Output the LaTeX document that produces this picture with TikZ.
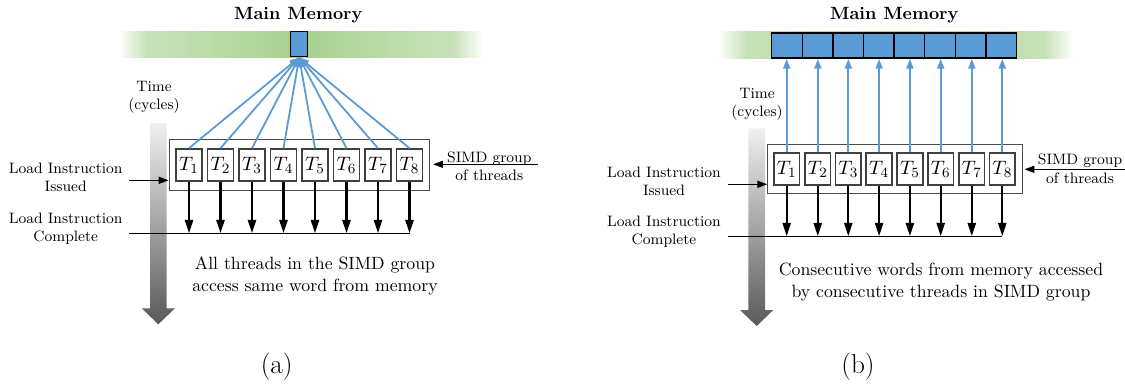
\documentclass[tikz,border=0pt]{standalone}
\usetikzlibrary{arrows.meta}
\definecolor{memblue}{RGB}{91,155,213}
\definecolor{bandlight}{RGB}{200,226,184}
\definecolor{banddark}{RGB}{168,208,142}
\pgfdeclarehorizontalshading{membandshade}{100bp}{color(0bp)=(white); color(25bp)=(white); color(29bp)=(bandlight); color(50bp)=(banddark); color(71bp)=(bandlight); color(75bp)=(white); color(100bp)=(white)}

\begin{document}
\begin{tikzpicture}[x=0.5634pt,y=-0.5634pt,
  thrd/.style={draw=black!75,line width=0.9pt,fill=white,inner sep=0pt,minimum width=14.5pt,minimum height=18pt,font=\fontsize{11}{13}\selectfont},
  grp/.style={draw=black!70,line width=0.6pt,inner sep=0pt},
  cell/.style={draw=black,line width=0.8pt,fill=memblue,inner sep=0pt,minimum height=14.3pt},
  lbl/.style={align=center,font=\fontsize{8.5}{10.4}\selectfont,inner sep=0pt},
  note/.style={align=center,font=\fontsize{10}{12.2}\selectfont,inner sep=0pt},
  ttl/.style={font=\bfseries,inner sep=0pt},
  req/.style={draw=memblue,line width=1pt,-{Triangle[length=5.5pt,width=4pt]}},
  done/.style={line width=1.3pt,-{Triangle[length=7.5pt,width=4.5pt]}},
  ptr/.style={line width=0.6pt,-{Triangle[length=5.5pt,width=4pt]}}]
\useasboundingbox (0,0) rectangle (1125,385);
% (a) same word
\shade[shading=membandshade] (118,31) rectangle (483,57.7);
\shade[top color=black!6,bottom color=black!65] (150,123) -- (166.7,123) -- (166.7,308.3) -- (175,308.3) -- (158.3,324.3) -- (141.7,308.3) -- (150,308.3) -- cycle;
\node[ttl] (mmema) at (298.3,15) {Main Memory};
\node[cell,minimum width=9.6pt,minimum height=14.1pt] (ma) at (299.2,44.2) {};
\node[lbl] (timea) at (154,97.5) {Time\\(cycles)};
\node[grp,minimum width=147pt,minimum height=28.6pt] (ga) at (299.5,164.7) {};
\node[thrd] (ta1) at (189,165) {$T_1$};
\node[thrd] (ta2) at (220.5,165) {$T_2$};
\node[thrd] (ta3) at (252,165) {$T_3$};
\node[thrd] (ta4) at (283.5,165) {$T_4$};
\node[thrd] (ta5) at (315,165) {$T_5$};
\node[thrd] (ta6) at (346.5,165) {$T_6$};
\node[thrd] (ta7) at (378,165) {$T_7$};
\node[thrd] (ta8) at (409.5,165) {$T_8$};
\node[lbl] (issla) at (65.7,177.5) {Load Instruction\\Issued};
\node[lbl] (cmpla) at (65.7,228.8) {Load Instruction\\Complete};
\node[lbl] (simdla) at (489.3,166.3) {SIMD group\\of threads};
\node[note] (notea) at (315,275.8) {All threads in the SIMD group\\access same word from memory};
\node[font=\fontsize{15.4}{18}\selectfont,inner sep=0pt] (capa) at (276.7,366.7) {(a)};
\coordinate (issa) at (129,180.3);
\coordinate (cmpa) at (129,233.3);
\coordinate (simda) at (538,164.3);
\draw[req] (ta1.north) to (ma.south);
\draw[req] (ta2.north) to (ma.south);
\draw[req] (ta3.north) to (ma.south);
\draw[req] (ta4.north) to (ma.south);
\draw[req] (ta5.north) to (ma.south);
\draw[req] (ta6.north) to (ma.south);
\draw[req] (ta7.north) to (ma.south);
\draw[req] (ta8.north) to (ma.south);
\draw[ptr] (issa) to (issa -| ga.west);
\draw[ptr,shorten >=1.5pt] (simda) to (simda -| ga.east);
\draw[line width=0.6pt] (cmpa) to (cmpa -| ta8);
\draw[done] (ta1.south) to (ta1 |- cmpa);
\draw[done] (ta2.south) to (ta2 |- cmpa);
\draw[done] (ta3.south) to (ta3 |- cmpa);
\draw[done] (ta4.south) to (ta4 |- cmpa);
\draw[done] (ta5.south) to (ta5 |- cmpa);
\draw[done] (ta6.south) to (ta6 |- cmpa);
\draw[done] (ta7.south) to (ta7 |- cmpa);
\draw[done] (ta8.south) to (ta8 |- cmpa);
% (b) consecutive words
\shade[shading=membandshade] (718,31.7) rectangle (1073,58.3);
\shade[top color=black!6,bottom color=black!65] (748.3,128.3) -- (765,128.3) -- (765,310) -- (773.3,310) -- (756.7,326) -- (740,310) -- (748.3,310) -- cycle;
\node[ttl] (mmemb) at (894.3,15) {Main Memory};
\node[cell,minimum width=17.24pt] (mb1) at (787,45.5) {};
\node[cell,minimum width=17.24pt] (mb2) at (817.6,45.5) {};
\node[cell,minimum width=17.24pt] (mb3) at (848.2,45.5) {};
\node[cell,minimum width=17.24pt] (mb4) at (878.8,45.5) {};
\node[cell,minimum width=17.24pt] (mb5) at (909.4,45.5) {};
\node[cell,minimum width=17.24pt] (mb6) at (940,45.5) {};
\node[cell,minimum width=17.24pt] (mb7) at (970.6,45.5) {};
\node[cell,minimum width=17.24pt] (mb8) at (1001.2,45.5) {};
\node[lbl] (timeb) at (757,104.5) {Time\\(cycles)};
\node[grp,minimum width=143.4pt,minimum height=27.6pt] (gb) at (895,168.8) {};
\node[thrd] (tb1) at (786.7,169) {$T_1$};
\node[thrd] (tb2) at (817.8,169) {$T_2$};
\node[thrd] (tb3) at (848.3,169) {$T_3$};
\node[thrd] (tb4) at (879.1,169) {$T_4$};
\node[thrd] (tb5) at (909.9,169) {$T_5$};
\node[thrd] (tb6) at (940.7,169) {$T_6$};
\node[thrd] (tb7) at (971.8,169) {$T_7$};
\node[thrd] (tb8) at (1002.3,169) {$T_8$};
\node[lbl] (isslb) at (664,181.5) {Load Instruction\\Issued};
\node[lbl] (cmplb) at (664,231.5) {Load Instruction\\Complete};
\node[lbl] (simdlb) at (1080,168.7) {SIMD group\\of threads};
\node[note] (noteb) at (941,282) {Consecutive words from memory accessed\\by consecutive threads in SIMD group};
\node[font=\fontsize{15.4}{18}\selectfont,inner sep=0pt] (capb) at (858,367) {(b)};
\coordinate (issb) at (728.3,184.3);
\coordinate (cmpb) at (728.3,236.3);
\coordinate (simdb) at (1125,169.3);
\draw[req] (tb1.north) to (tb1.north |- mb1.south);
\draw[req] (tb2.north) to (tb2.north |- mb2.south);
\draw[req] (tb3.north) to (tb3.north |- mb3.south);
\draw[req] (tb4.north) to (tb4.north |- mb4.south);
\draw[req] (tb5.north) to (tb5.north |- mb5.south);
\draw[req] (tb6.north) to (tb6.north |- mb6.south);
\draw[req] (tb7.north) to (tb7.north |- mb7.south);
\draw[req] (tb8.north) to (tb8.north |- mb8.south);
\draw[ptr] (issb) to (issb -| gb.west);
\draw[ptr,shorten >=1pt] (simdb) to (simdb -| gb.east);
\draw[line width=0.6pt] (cmpb) to (cmpb -| tb8);
\draw[done] (tb1.south) to (tb1 |- cmpb);
\draw[done] (tb2.south) to (tb2 |- cmpb);
\draw[done] (tb3.south) to (tb3 |- cmpb);
\draw[done] (tb4.south) to (tb4 |- cmpb);
\draw[done] (tb5.south) to (tb5 |- cmpb);
\draw[done] (tb6.south) to (tb6 |- cmpb);
\draw[done] (tb7.south) to (tb7 |- cmpb);
\draw[done] (tb8.south) to (tb8 |- cmpb);
\end{tikzpicture}
\end{document}
